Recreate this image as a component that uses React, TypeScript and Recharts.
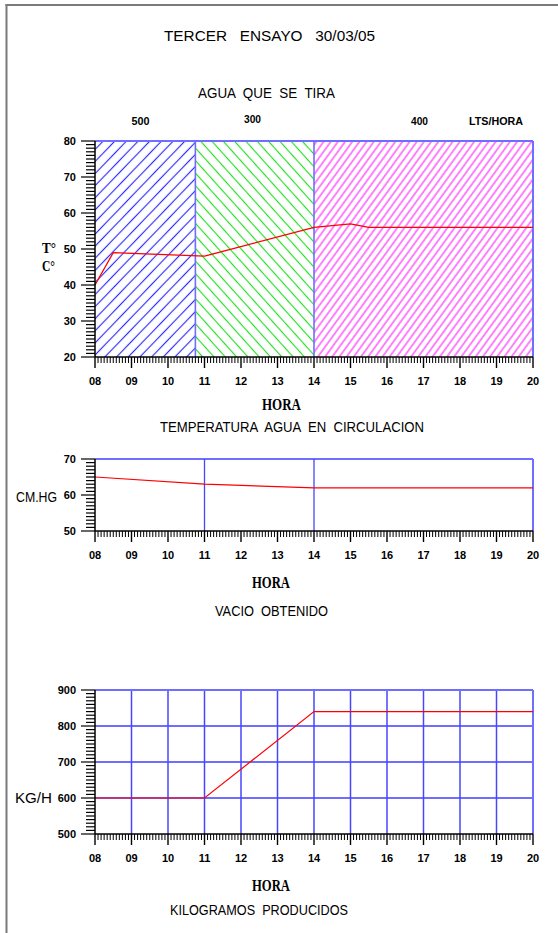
import React from "react";
import { LineChart, Line, XAxis, YAxis, ReferenceArea, ReferenceLine } from "recharts";

const W = 558;
const H = 933;

// ---------- data ----------
const hourTicks = [8, 9, 10, 11, 12, 13, 14, 15, 16, 17, 18, 19, 20];
const hourLabels = ["08", "09", "10", "11", "12", "13", "14", "15", "16", "17", "18", "19", "20"];
const minorPerHour = 12;

// Chart 1: temperature of discarded water
const tempHours = [8, 8.5, 11, 14, 15, 15.5, 20];
const tempValues = [40, 49, 48, 56, 57, 56, 56];
const flowZoneStart = [8, 10.75, 14];
const flowZoneEnd = [10.75, 14, 20];
const flowRates = ["500", "300", "400"];
const flowPatterns = ["hatchBlue", "hatchGreen", "hatchMagenta"];

// Chart 2: vacuum
const vacHours = [8, 11, 14, 20];
const vacValues = [65, 63, 62, 62];
const vacGridHours = [11, 14];

// Chart 3: kilograms produced
const kgHours = [8, 11, 14, 20];
const kgValues = [600, 600, 840, 840];
const kgGridValues = [600, 700, 800];
const kgGridHours = [9, 10, 11, 12, 13, 14, 15, 16, 17, 18, 19];

// ---------- helpers ----------
const xMinorTicks: number[] = [];
for (let i = 0; i <= (hourTicks[hourTicks.length - 1] - hourTicks[0]) * minorPerHour; i++) {
  xMinorTicks.push(hourTicks[0] + i / minorPerHour);
}
const rangeTicks = (from: number, to: number, step: number) => {
  const out: number[] = [];
  for (let v = from; v <= to + 1e-9; v += step) out.push(Math.round(v * 1000) / 1000);
  return out;
};

const tempData = tempHours.map((h, i) => ({ h, v: tempValues[i] }));
const vacData = vacHours.map((h, i) => ({ h, v: vacValues[i] }));
const kgData = kgHours.map((h, i) => ({ h, v: kgValues[i] }));

const AXIS_FONT = "'Liberation Sans', Arial, sans-serif";
const SERIF = "'Liberation Serif', 'Times New Roman', serif";
const BORDER = "#6e6eff";
const GRID = "#4646ff";

const XTick = (props: any) => {
  const { x, y, payload } = props;
  const idx = Math.round((payload.value - hourTicks[0]) * minorPerHour);
  const major = idx % minorPerHour === 0;
  const label = major ? hourLabels[idx / minorPerHour] : null;
  return (
    <g>
      <line x1={x} x2={x} y1={y} y2={y + (major ? 11 : 6)} stroke="#000" strokeWidth={major ? 1.4 : 1} />
      {label && (
        <text x={x} y={y + 28} textAnchor="middle" fontFamily={AXIS_FONT} fontWeight="bold" fontSize={11} fill="#000">
          {label}
        </text>
      )}
    </g>
  );
};

const makeYTick = (majorEvery: number) => (props: any) => {
  const { x, y, payload } = props;
  const v = payload.value;
  const major = Math.abs(v % majorEvery) < 1e-6;
  return (
    <g>
      <line x1={x - (major ? 14 : 9)} x2={x} y1={y} y2={y} stroke="#000" strokeWidth={1.2} />
      {major && (
        <text x={x - 19} y={y} dy="0.36em" textAnchor="end" fontFamily={AXIS_FONT} fontWeight="bold" fontSize={11} fill="#000">
          {v}
        </text>
      )}
    </g>
  );
};

const chartStyle: React.CSSProperties = { position: "absolute", left: 0, top: 0 };

const commonX = (
  <XAxis
    type="number"
    dataKey="h"
    domain={[8, 20]}
    ticks={xMinorTicks}
    interval={0}
    height={30}
    tickSize={0}
    tickMargin={0}
    tickLine={false}
    axisLine={{ stroke: "#000", strokeWidth: 1.5 }}
    tick={XTick}
  />
);

const T = (p: {
  x: number;
  y: number;
  w: number;
  size: number;
  children: string;
  bold?: boolean;
  serif?: boolean;
  weight?: number;
}) => (
  <text
    x={p.x}
    y={p.y}
    textLength={p.w}
    lengthAdjust="spacingAndGlyphs"
    fontFamily={p.serif ? SERIF : AXIS_FONT}
    fontWeight={p.bold ? "bold" : p.weight ?? "normal"}
    fontSize={p.size}
    fill="#000"
    style={{ whiteSpace: "pre" }}
  >
    {p.children}
  </text>
);

export default function App() {
  return (
    <div style={{ position: "absolute", left: 0, top: 0, width: W, height: H, background: "#fff", overflow: "hidden" }}>
      <svg width={0} height={0} style={{ position: "absolute" }}>
        <defs>
          <pattern id="hatchBlue" patternUnits="userSpaceOnUse" width={8.4} height={8.4} patternTransform="rotate(44)">
            <line x1={4.2} y1={-1} x2={4.2} y2={9.4} stroke="#2a2aff" strokeWidth={1.15} />
          </pattern>
          <pattern id="hatchGreen" patternUnits="userSpaceOnUse" width={8.4} height={8.4} patternTransform="rotate(-42)">
            <line x1={4.2} y1={-1} x2={4.2} y2={9.4} stroke="#22dd22" strokeWidth={1.15} />
          </pattern>
          <pattern id="hatchMagenta" patternUnits="userSpaceOnUse" width={5.8} height={8} patternTransform="rotate(36)">
            <line x1={2.9} y1={-1} x2={2.9} y2={9} stroke="#ff1cff" strokeWidth={1.1} />
          </pattern>
        </defs>
      </svg>

      {/* Chart 1 */}
      <LineChart width={W} height={H} data={tempData} margin={{ top: 141, right: 25, bottom: 546, left: 55 }} style={chartStyle}>
        {flowZoneStart.map((s, i) => (
          <ReferenceArea
            key={"z" + i}
            x1={s}
            x2={flowZoneEnd[i]}
            y1={20}
            y2={80}
            fill={`url(#${flowPatterns[i]})`}
            fillOpacity={1}
            stroke="none"
          />
        ))}
        {commonX}
        <YAxis
          type="number"
          domain={[20, 80]}
          ticks={rangeTicks(20, 80, 1)}
          interval={0}
          width={40}
          tickSize={0}
          tickMargin={0}
          tickLine={false}
          axisLine={{ stroke: "#000", strokeWidth: 1.5 }}
          tick={makeYTick(10)}
        />
        <ReferenceLine y={80} stroke={BORDER} strokeWidth={2} />
        <ReferenceLine x={20} stroke={BORDER} strokeWidth={2} />
        {flowZoneEnd.slice(0, 2).map((e) => (
          <ReferenceLine key={"b" + e} x={e} stroke={BORDER} strokeWidth={1.6} />
        ))}
        <Line type="linear" dataKey="v" stroke="#ff0000" strokeWidth={1.3} dot={false} isAnimationActive={false} />
      </LineChart>

      {/* Chart 2 */}
      <LineChart width={W} height={H} data={vacData} margin={{ top: 459, right: 25, bottom: 372, left: 55 }} style={chartStyle}>
        {commonX}
        <YAxis
          type="number"
          domain={[50, 70]}
          ticks={rangeTicks(50, 70, 1)}
          interval={0}
          width={40}
          tickSize={0}
          tickMargin={0}
          tickLine={false}
          axisLine={{ stroke: "#000", strokeWidth: 1.5 }}
          tick={makeYTick(10)}
        />
        <ReferenceLine y={70} stroke={BORDER} strokeWidth={2} />
        <ReferenceLine x={20} stroke={BORDER} strokeWidth={2} />
        {vacGridHours.map((h) => (
          <ReferenceLine key={"g" + h} x={h} stroke={GRID} strokeWidth={1.3} />
        ))}
        <Line type="linear" dataKey="v" stroke="#ff0000" strokeWidth={1.2} dot={false} isAnimationActive={false} />
      </LineChart>

      {/* Chart 3 */}
      <LineChart width={W} height={H} data={kgData} margin={{ top: 690, right: 25, bottom: 69, left: 55 }} style={chartStyle}>
        {commonX}
        <YAxis
          type="number"
          domain={[500, 900]}
          ticks={rangeTicks(500, 900, 10)}
          interval={0}
          width={40}
          tickSize={0}
          tickMargin={0}
          tickLine={false}
          axisLine={{ stroke: "#000", strokeWidth: 1.5 }}
          tick={makeYTick(100)}
        />
        {kgGridValues.map((v) => (
          <ReferenceLine key={"gy" + v} y={v} stroke={BORDER} strokeWidth={1.8} />
        ))}
        {kgGridHours.map((h) => (
          <ReferenceLine key={"gx" + h} x={h} stroke={GRID} strokeWidth={1.5} />
        ))}
        <ReferenceLine y={900} stroke={BORDER} strokeWidth={2} />
        <ReferenceLine x={20} stroke={BORDER} strokeWidth={2} />
        <Line type="linear" dataKey="v" stroke="#ff0000" strokeWidth={1.2} dot={false} isAnimationActive={false} />
      </LineChart>

      {/* Titles and annotations */}
      <svg width={W} height={H} style={{ position: "absolute", left: 0, top: 0, pointerEvents: "none" }}>
        <line x1={6.5} y1={4} x2={6.5} y2={H} stroke="#7a7a7a" strokeWidth={2} />
        <line x1={5.5} y1={5} x2={W} y2={5} stroke="#7a7a7a" strokeWidth={2} />

        <T x={164} y={41} w={211} size={15}>{"TERCER   ENSAYO   30/03/05"}</T>
        <T x={198} y={98} w={137} size={15}>{"AGUA  QUE  SE  TIRA"}</T>
        <T x={131.5} y={125} w={18} size={10} bold>{flowRates[0]}</T>
        <T x={244} y={123} w={17} size={10} bold>{flowRates[1]}</T>
        <T x={411} y={125} w={17} size={10} bold>{flowRates[2]}</T>
        <T x={469} y={125} w={54} size={10} bold>{"LTS/HORA"}</T>

        <T x={42} y={253} w={14} size={15} bold serif>{"T°"}</T>
        <T x={42} y={271} w={13} size={14} bold serif>{"C°"}</T>

        <T x={262} y={410} w={39} size={16} bold serif>{"HORA"}</T>
        <T x={160} y={432} w={264} size={15}>{"TEMPERATURA  AGUA  EN  CIRCULACION"}</T>

        <T x={16} y={502} w={41} size={14} weight={500}>{"CM.HG"}</T>
        <T x={252} y={588} w={38} size={16} bold serif>{"HORA"}</T>
        <T x={215} y={616} w={113} size={15}>{"VACIO  OBTENIDO"}</T>

        <T x={15} y={803} w={37} size={15}>{"KG/H"}</T>
        <T x={252} y={891} w={38} size={16} bold serif>{"HORA"}</T>
        <T x={170} y={915} w={178} size={15}>{"KILOGRAMOS  PRODUCIDOS"}</T>
      </svg>
    </div>
  );
}
